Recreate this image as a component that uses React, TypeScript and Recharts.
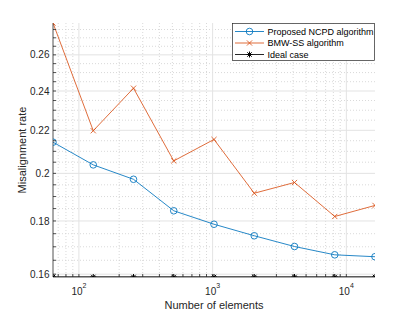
import React from 'react';
import { LineChart, Line, XAxis, YAxis, CartesianGrid, Legend } from 'recharts';

const elementCounts = [64, 128, 256, 512, 1024, 2048, 4096, 8192, 16384];
const ncpdRate = [0.2143, 0.2038, 0.1974, 0.1841, 0.1787, 0.1742, 0.1701, 0.167, 0.1663];
const bmwRate = [0.279, 0.2198, 0.2415, 0.2056, 0.2156, 0.1914, 0.196, 0.1818, 0.1863];
const idealRate = [0.159, 0.159, 0.159, 0.159, 0.159, 0.159, 0.159, 0.159, 0.159];
const seriesNames = ['Proposed NCPD algorithm', 'BMW-SS algorithm', 'Ideal case'];
const seriesColors = ['#0072BD', '#D95319', '#000000'];

const xMajorTicks = [100, 1000, 10000];
const xMajorLabelBase = ['10', '10', '10'];
const xMajorLabelExp = ['2', '3', '4'];
const xMinorTicks = [70, 80, 90, 200, 300, 400, 500, 600, 700, 800, 900, 2000, 3000, 4000, 5000, 6000, 7000, 8000, 9000];
const yMajorTicks = [0.16, 0.18, 0.2, 0.22, 0.24, 0.26];
const yMajorLabels = ['0.16', '0.18', '0.2', '0.22', '0.24', '0.26'];
const yMinorTicks = [0.165, 0.17, 0.175, 0.185, 0.19, 0.195, 0.205, 0.21, 0.215, 0.225, 0.23, 0.235, 0.245, 0.25, 0.255, 0.265, 0.27, 0.275];

const data = elementCounts.map((n, i) => ({ n, ncpd: ncpdRate[i], bmw: bmwRate[i], ideal: idealRate[i] }));
const xDomain = [Math.min(...elementCounts), Math.max(...elementCounts)];
const yDomain = [Math.min(...idealRate), Math.max(...bmwRate)];
const xAllTicks = [...xMajorTicks, ...xMinorTicks].sort((a, b) => a - b);
const yAllTicks = [...yMajorTicks, ...yMinorTicks].sort((a, b) => a - b);

const AXIS = '#262626';
const FONT = '"Liberation Sans", Arial, Helvetica, sans-serif';
const TICK_LEN = 3;
const LINE_W = 0.85;

function BottomTick(props: any) {
  const { x, y, payload } = props;
  const i = xMajorTicks.indexOf(payload.value);
  return (
    <g>
      <line x1={x} x2={x} y1={y} y2={y - TICK_LEN} stroke={AXIS} strokeWidth={0.8} />
      {i >= 0 && (
        <text x={x} y={y + 18} textAnchor="middle" fontSize={10} fill={AXIS} fontFamily={FONT}>
          {xMajorLabelBase[i]}
          <tspan dy={-7} fontSize={7}>{xMajorLabelExp[i]}</tspan>
        </text>
      )}
    </g>
  );
}

function TopTick(props: any) {
  const { x, y } = props;
  return <line x1={x} x2={x} y1={y} y2={y + TICK_LEN} stroke={AXIS} strokeWidth={0.8} />;
}

function LeftTick(props: any) {
  const { x, y, payload } = props;
  const i = yMajorTicks.indexOf(payload.value);
  return (
    <g>
      <line x1={x} x2={x + TICK_LEN} y1={y} y2={y} stroke={AXIS} strokeWidth={0.8} />
      {i >= 0 && (
        <text x={x - 3.5} y={y} dy={3.6} textAnchor="end" fontSize={10} fill={AXIS} fontFamily={FONT}>
          {yMajorLabels[i]}
        </text>
      )}
    </g>
  );
}

function RightTick(props: any) {
  const { x, y } = props;
  return <line x1={x} x2={x - TICK_LEN} y1={y} y2={y} stroke={AXIS} strokeWidth={0.8} />;
}

function CircleMark({ cx, cy, color }: any) {
  return <circle cx={cx} cy={cy} r={3.3} fill="none" stroke={color} strokeWidth={LINE_W} />;
}
function XMark({ cx, cy, color }: any) {
  const s = 2.6;
  return (
    <g stroke={color} strokeWidth={LINE_W}>
      <line x1={cx - s} y1={cy - s} x2={cx + s} y2={cy + s} />
      <line x1={cx - s} y1={cy + s} x2={cx + s} y2={cy - s} />
    </g>
  );
}
function StarMark({ cx, cy, color }: any) {
  const s = 3;
  const d = 2.2;
  return (
    <g stroke={color} strokeWidth={1}>
      <line x1={cx - s} y1={cy} x2={cx + s} y2={cy} />
      <line x1={cx} y1={cy - s} x2={cx} y2={cy + s} />
      <line x1={cx - d} y1={cy - d} x2={cx + d} y2={cy + d} />
      <line x1={cx - d} y1={cy + d} x2={cx + d} y2={cy - d} />
    </g>
  );
}

const markerByKey: Record<string, any> = { ncpd: CircleMark, bmw: XMark, ideal: StarMark };

function LegendBox(props: any) {
  const payload: any[] = [...(props.payload || [])].sort(
    (a: any, b: any) => seriesNames.indexOf(a.value) - seriesNames.indexOf(b.value)
  );
  return (
    <svg width={143} height={38} style={{ display: 'block' }}>
      <rect x={0.5} y={0.5} width={142} height={37} fill="#ffffff" stroke={AXIS} strokeWidth={0.7} />
      {payload.map((p: any, i: number) => {
        const cy = 8.5 + i * 11.5;
        const M = markerByKey[p.dataKey] || CircleMark;
        return (
          <g key={p.value}>
            <line x1={3} x2={32} y1={cy} y2={cy} stroke={p.color} strokeWidth={LINE_W} />
            <M cx={17.5} cy={cy} color={p.color} />
            <text x={35.5} y={cy} dy={3.2} fontSize={9} fill="#000" fontFamily={FONT}>
              {p.value}
            </text>
          </g>
        );
      })}
    </svg>
  );
}

export default function App() {
  return (
    <div style={{ position: 'absolute', left: 0, top: 0, background: '#fff' }}>
      <LineChart width={415} height={312} data={data} margin={{ top: 23, right: 40, bottom: 0, left: 0 }}>
        <CartesianGrid
          verticalValues={xMinorTicks}
          horizontalValues={yMinorTicks}
          stroke="#cfcfcf"
          strokeDasharray="1 2"
          strokeWidth={0.8}
        />
        <CartesianGrid verticalValues={xMajorTicks} horizontalValues={yMajorTicks} stroke="#e3e3e3" strokeWidth={1} />
        <XAxis
          dataKey="n"
          type="number"
          scale="log"
          domain={xDomain}
          ticks={xAllTicks}
          interval={0}
          height={35}
          tickSize={0}
          tickMargin={0}
          tick={(p: any) => <BottomTick {...p} />}
          axisLine={{ stroke: AXIS, strokeWidth: 0.8 }}
          allowDataOverflow
          label={(lp: any) => {
            const vb = lp.viewBox || { x: 53, y: 277, width: 322, height: 35 };
            return (
              <text x={vb.x + vb.width / 2} y={vb.y + 32} textAnchor="middle" fontSize={11} fill={AXIS} fontFamily={FONT}>
                Number of elements
              </text>
            );
          }}
        />
        <XAxis
          xAxisId="top"
          orientation="top"
          dataKey="n"
          type="number"
          scale="log"
          domain={xDomain}
          ticks={xAllTicks}
          interval={0}
          height={0}
          tickSize={0}
          tickMargin={0}
          tick={(p: any) => <TopTick {...p} />}
          axisLine={{ stroke: AXIS, strokeWidth: 0.8 }}
          allowDataOverflow
        />
        <YAxis
          type="number"
          scale="log"
          domain={yDomain}
          ticks={yAllTicks}
          interval={0}
          width={53}
          tickSize={0}
          tickMargin={0}
          tick={(p: any) => <LeftTick {...p} />}
          axisLine={{ stroke: AXIS, strokeWidth: 0.8 }}
          allowDataOverflow
          label={(lp: any) => {
            const vb = lp.viewBox || { x: 0, y: 23, width: 53, height: 254 };
            const cx = 22;
            const cy = vb.y + vb.height / 2;
            return (
              <text
                x={cx}
                y={cy}
                transform={`rotate(-90 ${cx} ${cy})`}
                textAnchor="middle"
                dy={3.8}
                fontSize={11}
                fill={AXIS}
                fontFamily={FONT}
              >
                Misalignment rate
              </text>
            );
          }}
        />
        <YAxis
          yAxisId="right"
          orientation="right"
          type="number"
          scale="log"
          domain={yDomain}
          ticks={yAllTicks}
          interval={0}
          width={0}
          tickSize={0}
          tickMargin={0}
          tick={(p: any) => <RightTick {...p} />}
          axisLine={{ stroke: AXIS, strokeWidth: 0.8 }}
          allowDataOverflow
        />
        <Line
          dataKey="ncpd"
          name={seriesNames[0]}
          stroke={seriesColors[0]}
          strokeWidth={LINE_W}
          isAnimationActive={false}
          dot={(p: any) => <CircleMark key={`n${p.index}`} cx={p.cx} cy={p.cy} color={seriesColors[0]} />}
          activeDot={false}
        />
        <Line
          dataKey="bmw"
          name={seriesNames[1]}
          stroke={seriesColors[1]}
          strokeWidth={LINE_W}
          isAnimationActive={false}
          dot={(p: any) => <XMark key={`b${p.index}`} cx={p.cx} cy={p.cy} color={seriesColors[1]} />}
          activeDot={false}
        />
        <Line
          dataKey="ideal"
          name={seriesNames[2]}
          stroke={seriesColors[2]}
          strokeWidth={1}
          isAnimationActive={false}
          dot={(p: any) => <StarMark key={`i${p.index}`} cx={p.cx} cy={p.cy} color={seriesColors[2]} />}
          activeDot={false}
        />
        <Legend
          layout="horizontal"
          verticalAlign="middle"
          align="center"
          wrapperStyle={{ position: 'absolute', left: 232, top: 23, width: 143, height: 38 }}
          content={(p: any) => <LegendBox {...p} />}
        />
      </LineChart>
    </div>
  );
}
